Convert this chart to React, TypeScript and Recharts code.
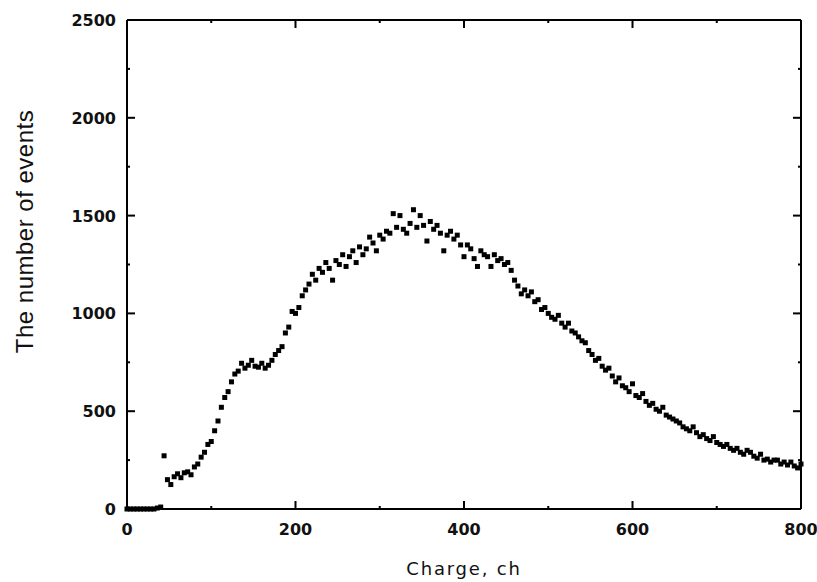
import React from "react";
import { ScatterChart, Scatter, XAxis, YAxis } from "recharts";

// channel grid, 4 ch per point (0..800)
const STEP = 4;

// number of events per channel
const counts = [
  0, 0, 0, 0, 0, 0, 0, 0, 0, 5,
  10, 272, 150, 125, 165, 180, 160, 185, 190, 175,
  215, 230, 265, 290, 330, 345, 400, 450, 520, 570,
  600, 650, 690, 705, 745, 720, 735, 760, 730, 725,
  745, 720, 735, 760, 790, 810, 830, 900, 930, 1010,
  1000, 1030, 1090, 1120, 1150, 1200, 1170, 1230, 1210, 1260,
  1230, 1170, 1270, 1250, 1300, 1240, 1290, 1320, 1260, 1340,
  1300, 1330, 1390, 1360, 1320, 1400, 1380, 1420, 1410, 1510,
  1440, 1500, 1430, 1410, 1460, 1530, 1440, 1500, 1450, 1370,
  1470, 1430, 1450, 1410, 1320, 1400, 1420, 1380, 1400, 1350,
  1290, 1350, 1330, 1280, 1240, 1320, 1300, 1290, 1240, 1300,
  1270, 1280, 1250, 1260, 1220, 1170, 1140, 1100, 1120, 1090,
  1110, 1060, 1070, 1020, 1030, 1000, 980, 970, 990, 950,
  930, 950, 910, 900, 880, 860, 850, 810, 790, 760,
  770, 730, 710, 720, 680, 650, 670, 630, 620, 600,
  640, 580, 570, 590, 550, 530, 540, 510, 500, 520,
  480, 470, 460, 450, 440, 420, 410, 400, 420, 390,
  370, 380, 360, 350, 370, 340, 330, 320, 330, 310,
  300, 310, 290, 280, 300, 290, 270, 260, 280, 250,
  255, 240, 250, 250, 230, 240, 225, 240, 220, 210,
  230,
];

const xTicks = [0, 100, 200, 300, 400, 500, 600, 700, 800];
const yTicks = [0, 250, 500, 750, 1000, 1250, 1500, 1750, 2000, 2250, 2500];
const xMajor = [0, 200, 400, 600, 800];
const yMajor = [0, 500, 1000, 1500, 2000, 2500];

const data = counts.map((v, i) => ({ x: i * STEP, y: v }));

// inward tick marks on all four sides of the frame, placed through the chart scales
const tickMarks = [
  ...xTicks.map((v) => ({ x: v, y: 0, side: "b", major: xMajor.includes(v) })),
  ...xTicks.map((v) => ({ x: v, y: 2500, side: "t", major: xMajor.includes(v) })),
  ...yTicks.map((v) => ({ x: 0, y: v, side: "l", major: yMajor.includes(v) })),
  ...yTicks.map((v) => ({ x: 800, y: v, side: "r", major: yMajor.includes(v) })),
];

const tickFont = { fontFamily: "DejaVu Sans", fontSize: 16, fontWeight: 700 };

const TickMark = (p: any) => {
  const len = p.payload.major ? 8 : 3;
  const { cx, cy } = p;
  let d = "";
  if (p.payload.side === "b") d = `M${cx},${cy}V${cy - len}`;
  if (p.payload.side === "t") d = `M${cx},${cy}V${cy + len}`;
  if (p.payload.side === "l") d = `M${cx},${cy}H${cx + len}`;
  if (p.payload.side === "r") d = `M${cx},${cy}H${cx - len}`;
  return <path d={d} stroke="#000" strokeWidth={2} fill="none" />;
};

const bottomLabel = (p: any) => {
  const v = p.payload.value;
  if (!xMajor.includes(v)) return <g />;
  return <text x={p.x} y={Number(p.y) + 26} textAnchor="middle" fill="#111" style={tickFont}>{v}</text>;
};

const leftLabel = (p: any) => {
  const v = p.payload.value;
  if (!yMajor.includes(v)) return <g />;
  return <text x={Number(p.x) - 11} y={Number(p.y) + 6} textAnchor="end" fill="#111" style={tickFont}>{v}</text>;
};

const Dot = (p: any) => <rect x={p.cx - 2.5} y={p.cy - 2.5} width={5} height={5} fill="#000" />;

const YTitle = (p: any) => {
  const vb = p.viewBox;
  const cx = vb.x + vb.width - 103;
  const cy = vb.y + vb.height / 2 - 33;
  return (
    <text x={cx} y={cy} transform={`rotate(-90 ${cx} ${cy})`} textAnchor="middle" dominantBaseline="central"
      style={{ fontFamily: "Liberation Sans", fontSize: 24, letterSpacing: 0.5 }} fill="#111">
      The number of events
    </text>
  );
};

const XTitle = (p: any) => {
  const vb = p.viewBox;
  return (
    <text x={vb.x + vb.width / 2} y={vb.y + 66} textAnchor="middle"
      style={{ fontFamily: "DejaVu Sans", fontSize: 18, letterSpacing: 1.8 }} fill="#111">
      Charge, ch
    </text>
  );
};

const axisLine = { stroke: "#000", strokeWidth: 2 };

export default function App() {
  return (
    <div style={{ background: "#fff" }}>
      <style>{`body{margin:0}`}</style>
      <ScatterChart width={817} height={582} margin={{ top: 10, right: 6, bottom: 43, left: 67 }}>
        <XAxis type="number" dataKey="x" domain={[0, 800]} ticks={xTicks} height={30} interval={0}
          tickSize={0} tickMargin={0} tickLine={false} axisLine={axisLine} tick={bottomLabel}
          label={{ content: XTitle }} />
        <XAxis xAxisId="top" orientation="top" type="number" dataKey="x" domain={[0, 800]}
          height={10} tick={false} tickLine={false} axisLine={axisLine} />
        <YAxis type="number" dataKey="y" domain={[0, 2500]} ticks={yTicks} width={60} interval={0}
          tickSize={0} tickMargin={0} tickLine={false} axisLine={axisLine} tick={leftLabel}
          label={{ content: YTitle }} />
        <YAxis yAxisId="right" orientation="right" type="number" dataKey="y" domain={[0, 2500]}
          width={10} tick={false} tickLine={false} axisLine={axisLine} />
        <Scatter data={tickMarks} shape={TickMark} isAnimationActive={false} />
        <Scatter data={data} shape={Dot} isAnimationActive={false} />
      </ScatterChart>
    </div>
  );
}
